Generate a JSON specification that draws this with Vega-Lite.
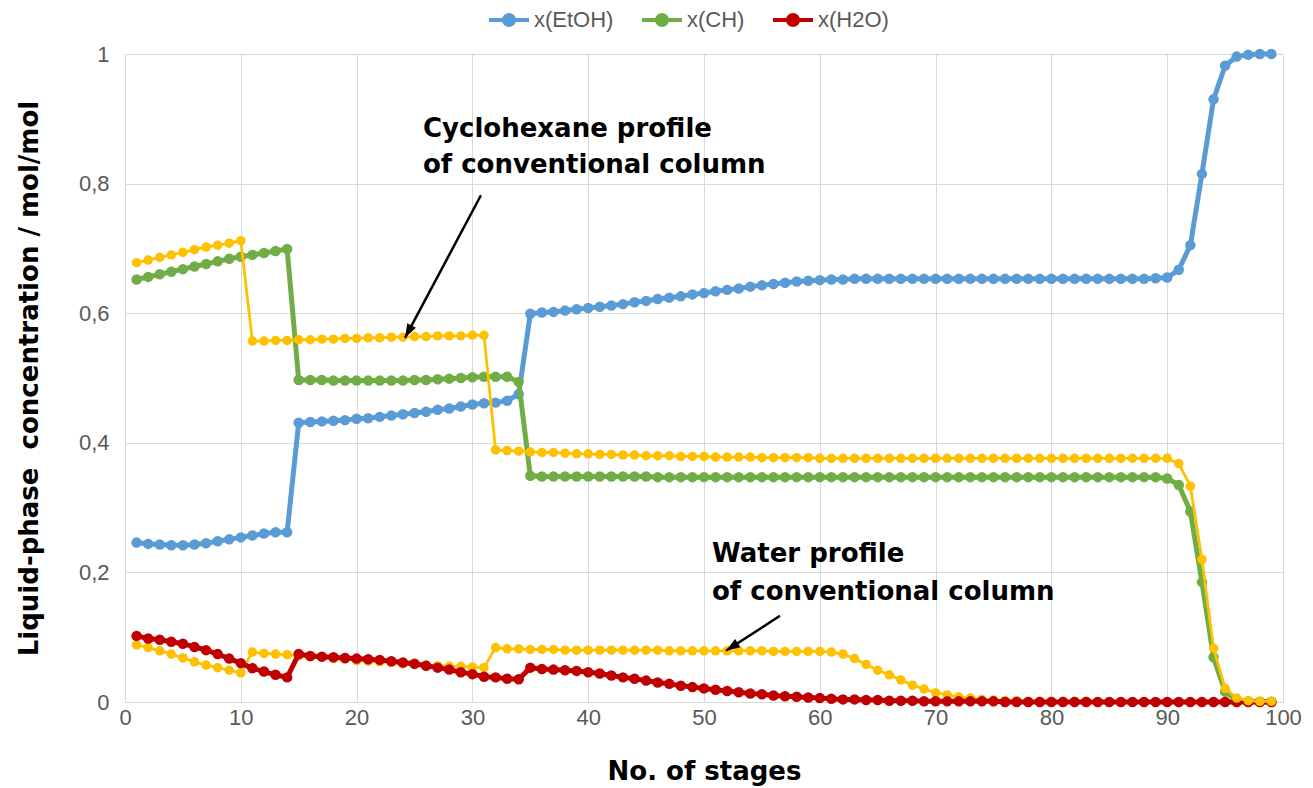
{
  "$schema": "https://vega.github.io/schema/vega-lite/v6.json",
  "width": 1158,
  "height": 648,
  "autosize": {"type": "none"},
  "padding": {"left": 125, "top": 54, "right": 30, "bottom": 86},
  "background": "white",
  "config": {
    "view": {"stroke": null},
    "font": "Liberation Sans",
    "axis": {
      "grid": true,
      "gridColor": "#d9d9d9",
      "gridWidth": 1,
      "domainColor": "#d9d9d9",
      "domainWidth": 1,
      "ticks": false,
      "labelFont": "Liberation Sans",
      "labelFontSize": 22,
      "labelColor": "#595959",
      "labelFlush": false,
      "labelOverlap": false,
      "titleFont": "DejaVu Sans",
      "titleFontWeight": "bold",
      "titleFontSize": 26,
      "titleColor": "#000000"
    }
  },
  "datasets": {
    "profiles": [
      {"n": 1, "E": 0.246, "C": 0.652, "W": 0.102, "Cc": 0.678, "Wc": 0.088},
      {"n": 2, "E": 0.244, "C": 0.656, "W": 0.098, "Cc": 0.682, "Wc": 0.084},
      {"n": 3, "E": 0.243, "C": 0.660, "W": 0.096, "Cc": 0.686, "Wc": 0.079},
      {"n": 4, "E": 0.242, "C": 0.664, "W": 0.093, "Cc": 0.690, "Wc": 0.074},
      {"n": 5, "E": 0.242, "C": 0.668, "W": 0.090, "Cc": 0.694, "Wc": 0.068},
      {"n": 6, "E": 0.243, "C": 0.672, "W": 0.085, "Cc": 0.698, "Wc": 0.062},
      {"n": 7, "E": 0.245, "C": 0.676, "W": 0.080, "Cc": 0.702, "Wc": 0.057},
      {"n": 8, "E": 0.248, "C": 0.680, "W": 0.074, "Cc": 0.705, "Wc": 0.053},
      {"n": 9, "E": 0.251, "C": 0.684, "W": 0.067, "Cc": 0.708, "Wc": 0.049},
      {"n": 10, "E": 0.254, "C": 0.687, "W": 0.060, "Cc": 0.712, "Wc": 0.045},
      {"n": 11, "E": 0.257, "C": 0.690, "W": 0.052, "Cc": 0.557, "Wc": 0.077},
      {"n": 12, "E": 0.260, "C": 0.693, "W": 0.047, "Cc": 0.557, "Wc": 0.075},
      {"n": 13, "E": 0.262, "C": 0.696, "W": 0.042, "Cc": 0.558, "Wc": 0.074},
      {"n": 14, "E": 0.262, "C": 0.699, "W": 0.038, "Cc": 0.558, "Wc": 0.073},
      {"n": 15, "E": 0.431, "C": 0.497, "W": 0.074, "Cc": 0.559, "Wc": 0.071},
      {"n": 16, "E": 0.432, "C": 0.497, "W": 0.071, "Cc": 0.559, "Wc": 0.070},
      {"n": 17, "E": 0.433, "C": 0.497, "W": 0.070, "Cc": 0.560, "Wc": 0.069},
      {"n": 18, "E": 0.434, "C": 0.496, "W": 0.069, "Cc": 0.560, "Wc": 0.067},
      {"n": 19, "E": 0.435, "C": 0.496, "W": 0.068, "Cc": 0.561, "Wc": 0.066},
      {"n": 20, "E": 0.437, "C": 0.496, "W": 0.067, "Cc": 0.561, "Wc": 0.064},
      {"n": 21, "E": 0.438, "C": 0.496, "W": 0.066, "Cc": 0.562, "Wc": 0.063},
      {"n": 22, "E": 0.440, "C": 0.496, "W": 0.065, "Cc": 0.562, "Wc": 0.062},
      {"n": 23, "E": 0.442, "C": 0.496, "W": 0.063, "Cc": 0.563, "Wc": 0.061},
      {"n": 24, "E": 0.444, "C": 0.496, "W": 0.061, "Cc": 0.563, "Wc": 0.059},
      {"n": 25, "E": 0.446, "C": 0.497, "W": 0.059, "Cc": 0.564, "Wc": 0.058},
      {"n": 26, "E": 0.448, "C": 0.497, "W": 0.056, "Cc": 0.564, "Wc": 0.057},
      {"n": 27, "E": 0.451, "C": 0.498, "W": 0.053, "Cc": 0.565, "Wc": 0.056},
      {"n": 28, "E": 0.453, "C": 0.499, "W": 0.050, "Cc": 0.565, "Wc": 0.055},
      {"n": 29, "E": 0.456, "C": 0.500, "W": 0.046, "Cc": 0.565, "Wc": 0.055},
      {"n": 30, "E": 0.459, "C": 0.501, "W": 0.043, "Cc": 0.566, "Wc": 0.054},
      {"n": 31, "E": 0.461, "C": 0.502, "W": 0.039, "Cc": 0.566, "Wc": 0.053},
      {"n": 32, "E": 0.462, "C": 0.502, "W": 0.038, "Cc": 0.389, "Wc": 0.084},
      {"n": 33, "E": 0.465, "C": 0.502, "W": 0.036, "Cc": 0.388, "Wc": 0.082},
      {"n": 34, "E": 0.475, "C": 0.494, "W": 0.035, "Cc": 0.387, "Wc": 0.082},
      {"n": 35, "E": 0.599, "C": 0.349, "W": 0.053, "Cc": 0.386, "Wc": 0.081},
      {"n": 36, "E": 0.601, "C": 0.348, "W": 0.051, "Cc": 0.385, "Wc": 0.081},
      {"n": 37, "E": 0.602, "C": 0.348, "W": 0.050, "Cc": 0.385, "Wc": 0.081},
      {"n": 38, "E": 0.604, "C": 0.348, "W": 0.049, "Cc": 0.384, "Wc": 0.080},
      {"n": 39, "E": 0.606, "C": 0.348, "W": 0.048, "Cc": 0.383, "Wc": 0.080},
      {"n": 40, "E": 0.608, "C": 0.348, "W": 0.046, "Cc": 0.383, "Wc": 0.080},
      {"n": 41, "E": 0.610, "C": 0.348, "W": 0.044, "Cc": 0.382, "Wc": 0.080},
      {"n": 42, "E": 0.612, "C": 0.348, "W": 0.041, "Cc": 0.382, "Wc": 0.080},
      {"n": 43, "E": 0.614, "C": 0.348, "W": 0.038, "Cc": 0.381, "Wc": 0.080},
      {"n": 44, "E": 0.617, "C": 0.348, "W": 0.036, "Cc": 0.381, "Wc": 0.080},
      {"n": 45, "E": 0.619, "C": 0.348, "W": 0.033, "Cc": 0.380, "Wc": 0.080},
      {"n": 46, "E": 0.622, "C": 0.347, "W": 0.030, "Cc": 0.380, "Wc": 0.080},
      {"n": 47, "E": 0.624, "C": 0.347, "W": 0.028, "Cc": 0.380, "Wc": 0.079},
      {"n": 48, "E": 0.626, "C": 0.347, "W": 0.025, "Cc": 0.379, "Wc": 0.079},
      {"n": 49, "E": 0.629, "C": 0.347, "W": 0.023, "Cc": 0.379, "Wc": 0.079},
      {"n": 50, "E": 0.631, "C": 0.347, "W": 0.021, "Cc": 0.379, "Wc": 0.079},
      {"n": 51, "E": 0.634, "C": 0.347, "W": 0.019, "Cc": 0.378, "Wc": 0.079},
      {"n": 52, "E": 0.636, "C": 0.347, "W": 0.017, "Cc": 0.378, "Wc": 0.079},
      {"n": 53, "E": 0.638, "C": 0.347, "W": 0.015, "Cc": 0.378, "Wc": 0.079},
      {"n": 54, "E": 0.641, "C": 0.347, "W": 0.013, "Cc": 0.378, "Wc": 0.079},
      {"n": 55, "E": 0.643, "C": 0.347, "W": 0.012, "Cc": 0.377, "Wc": 0.079},
      {"n": 56, "E": 0.645, "C": 0.347, "W": 0.010, "Cc": 0.377, "Wc": 0.078},
      {"n": 57, "E": 0.647, "C": 0.347, "W": 0.009, "Cc": 0.377, "Wc": 0.078},
      {"n": 58, "E": 0.649, "C": 0.347, "W": 0.008, "Cc": 0.377, "Wc": 0.078},
      {"n": 59, "E": 0.650, "C": 0.347, "W": 0.007, "Cc": 0.377, "Wc": 0.078},
      {"n": 60, "E": 0.651, "C": 0.347, "W": 0.006, "Cc": 0.376, "Wc": 0.078},
      {"n": 61, "E": 0.652, "C": 0.347, "W": 0.005, "Cc": 0.376, "Wc": 0.077},
      {"n": 62, "E": 0.652, "C": 0.347, "W": 0.004, "Cc": 0.376, "Wc": 0.074},
      {"n": 63, "E": 0.653, "C": 0.347, "W": 0.004, "Cc": 0.376, "Wc": 0.067},
      {"n": 64, "E": 0.653, "C": 0.347, "W": 0.003, "Cc": 0.376, "Wc": 0.058},
      {"n": 65, "E": 0.653, "C": 0.347, "W": 0.003, "Cc": 0.376, "Wc": 0.049},
      {"n": 66, "E": 0.653, "C": 0.347, "W": 0.002, "Cc": 0.376, "Wc": 0.042},
      {"n": 67, "E": 0.653, "C": 0.347, "W": 0.002, "Cc": 0.376, "Wc": 0.034},
      {"n": 68, "E": 0.653, "C": 0.347, "W": 0.002, "Cc": 0.376, "Wc": 0.026},
      {"n": 69, "E": 0.653, "C": 0.347, "W": 0.001, "Cc": 0.376, "Wc": 0.020},
      {"n": 70, "E": 0.653, "C": 0.347, "W": 0.001, "Cc": 0.376, "Wc": 0.014},
      {"n": 71, "E": 0.653, "C": 0.347, "W": 0.001, "Cc": 0.376, "Wc": 0.011},
      {"n": 72, "E": 0.653, "C": 0.347, "W": 0.001, "Cc": 0.376, "Wc": 0.008},
      {"n": 73, "E": 0.653, "C": 0.347, "W": 0.001, "Cc": 0.376, "Wc": 0.006},
      {"n": 74, "E": 0.653, "C": 0.347, "W": 0.001, "Cc": 0.376, "Wc": 0.004},
      {"n": 75, "E": 0.653, "C": 0.347, "W": 0.001, "Cc": 0.376, "Wc": 0.003},
      {"n": 76, "E": 0.653, "C": 0.347, "W": 0.000, "Cc": 0.376, "Wc": 0.002},
      {"n": 77, "E": 0.653, "C": 0.347, "W": 0.000, "Cc": 0.376, "Wc": 0.002},
      {"n": 78, "E": 0.653, "C": 0.347, "W": 0.000, "Cc": 0.376, "Wc": 0.001},
      {"n": 79, "E": 0.653, "C": 0.347, "W": 0.000, "Cc": 0.376, "Wc": 0.001},
      {"n": 80, "E": 0.653, "C": 0.347, "W": 0.000, "Cc": 0.376, "Wc": 0.001},
      {"n": 81, "E": 0.653, "C": 0.347, "W": 0.000, "Cc": 0.376, "Wc": 0.001},
      {"n": 82, "E": 0.653, "C": 0.347, "W": 0.000, "Cc": 0.376, "Wc": 0.001},
      {"n": 83, "E": 0.653, "C": 0.347, "W": 0.000, "Cc": 0.376, "Wc": 0.001},
      {"n": 84, "E": 0.653, "C": 0.347, "W": 0.000, "Cc": 0.376, "Wc": 0.000},
      {"n": 85, "E": 0.653, "C": 0.347, "W": 0.000, "Cc": 0.376, "Wc": 0.000},
      {"n": 86, "E": 0.653, "C": 0.347, "W": 0.000, "Cc": 0.376, "Wc": 0.000},
      {"n": 87, "E": 0.653, "C": 0.347, "W": 0.000, "Cc": 0.376, "Wc": 0.000},
      {"n": 88, "E": 0.653, "C": 0.347, "W": 0.000, "Cc": 0.376, "Wc": 0.000},
      {"n": 89, "E": 0.654, "C": 0.347, "W": 0.000, "Cc": 0.376, "Wc": 0.000},
      {"n": 90, "E": 0.655, "C": 0.345, "W": 0.000, "Cc": 0.376, "Wc": 0.000},
      {"n": 91, "E": 0.667, "C": 0.335, "W": 0.000, "Cc": 0.368, "Wc": 0.000},
      {"n": 92, "E": 0.705, "C": 0.294, "W": 0.000, "Cc": 0.333, "Wc": 0.000},
      {"n": 93, "E": 0.815, "C": 0.185, "W": 0.000, "Cc": 0.220, "Wc": 0.000},
      {"n": 94, "E": 0.930, "C": 0.069, "W": 0.000, "Cc": 0.083, "Wc": 0.000},
      {"n": 95, "E": 0.982, "C": 0.016, "W": 0.000, "Cc": 0.021, "Wc": 0.000},
      {"n": 96, "E": 0.996, "C": 0.003, "W": 0.000, "Cc": 0.006, "Wc": 0.000},
      {"n": 97, "E": 0.999, "C": 0.001, "W": 0.000, "Cc": 0.002, "Wc": 0.000},
      {"n": 98, "E": 1.000, "C": 0.000, "W": 0.000, "Cc": 0.001, "Wc": 0.000},
      {"n": 99, "E": 1.000, "C": 0.000, "W": 0.000, "Cc": 0.001, "Wc": 0.000}
    ],
    "notes": [
      {"x": 25.73, "y": 0.872, "label": "Cyclohexane profile"},
      {"x": 25.73, "y": 0.816, "label": "of conventional column"},
      {"x": 50.69, "y": 0.216, "label": "Water profile"},
      {"x": 50.69, "y": 0.157, "label": "of conventional column"}
    ],
    "arrows": [
      {"id": "ch", "x": 30.74, "y": 0.782, "x2": 24.18, "y2": 0.562},
      {"id": "water", "x": 56.56, "y": 0.133, "x2": 51.9, "y2": 0.079}
    ]
  },
  "data": {"name": "profiles"},
  "layer": [
    {
      "mark": {"type": "line", "color": "#ffc000", "strokeWidth": 2.8},
      "encoding": {
        "x": {"field": "n", "type": "quantitative", "scale": {"domain": [0, 100], "nice": false},
              "axis": {"values": [0, 10, 20, 30, 40, 50, 60, 70, 80, 90, 100], "title": "No. of stages", "labelPadding": 5, "titlePadding": 30}},
        "y": {"field": "Wc", "type": "quantitative", "scale": {"domain": [0, 1], "nice": false},
              "axis": {"values": [0, 0.2, 0.4, 0.6, 0.8, 1], "labelExpr": "replace(format(datum.value, '~g'), '.', ',')", "title": "Liquid-phase \u00a0concentration / mol/mol", "labelPadding": 16, "titlePadding": 36}}
      }
    },
    {
      "mark": {"type": "point", "filled": true, "color": "#ffc000", "opacity": 1, "size": 90},
      "encoding": {"x": {"field": "n", "type": "quantitative"}, "y": {"field": "Wc", "type": "quantitative"}}
    },
    {
      "mark": {"type": "line", "strokeWidth": 5},
      "encoding": {
        "x": {"field": "n", "type": "quantitative"},
        "y": {"field": "E", "type": "quantitative"},
        "color": {
          "datum": "x(EtOH)", "type": "nominal",
          "scale": {"domain": ["x(EtOH)", "x(CH)", "x(H2O)"], "range": ["#5b9bd5", "#70ad47", "#c00000"]},
          "legend": {
            "title": null, "orient": "none", "direction": "horizontal", "legendX": 362, "legendY": -56,
            "padding": 0, "symbolType": "M-1,0L1,0M-0.25,0A0.25,0.25,0,1,1,0.25,0A0.25,0.25,0,1,1,-0.25,0Z",
            "symbolSize": 1600, "symbolStrokeWidth": 4, "symbolOpacity": 1,
            "labelFont": "Liberation Sans", "labelFontSize": 22, "labelColor": "#595959", "labelOffset": 3,
            "columnPadding": 20,
            "encode": {"symbols": {"update": {"fill": {"scale": "color", "field": "value"}, "stroke": {"scale": "color", "field": "value"}}}}
          }
        }
      }
    },
    {
      "mark": {"type": "point", "filled": true, "opacity": 1, "size": 110},
      "encoding": {"x": {"field": "n", "type": "quantitative"}, "y": {"field": "E", "type": "quantitative"}, "color": {"datum": "x(EtOH)", "type": "nominal"}}
    },
    {
      "mark": {"type": "line", "strokeWidth": 5},
      "encoding": {"x": {"field": "n", "type": "quantitative"}, "y": {"field": "C", "type": "quantitative"}, "color": {"datum": "x(CH)", "type": "nominal"}}
    },
    {
      "mark": {"type": "point", "filled": true, "opacity": 1, "size": 110},
      "encoding": {"x": {"field": "n", "type": "quantitative"}, "y": {"field": "C", "type": "quantitative"}, "color": {"datum": "x(CH)", "type": "nominal"}}
    },
    {
      "mark": {"type": "line", "strokeWidth": 5},
      "encoding": {"x": {"field": "n", "type": "quantitative"}, "y": {"field": "W", "type": "quantitative"}, "color": {"datum": "x(H2O)", "type": "nominal"}}
    },
    {
      "mark": {"type": "point", "filled": true, "opacity": 1, "size": 110},
      "encoding": {"x": {"field": "n", "type": "quantitative"}, "y": {"field": "W", "type": "quantitative"}, "color": {"datum": "x(H2O)", "type": "nominal"}}
    },
    {
      "mark": {"type": "line", "color": "#ffc000", "strokeWidth": 2.8},
      "encoding": {"x": {"field": "n", "type": "quantitative"}, "y": {"field": "Cc", "type": "quantitative"}}
    },
    {
      "mark": {"type": "point", "filled": true, "color": "#ffc000", "opacity": 1, "size": 90},
      "encoding": {"x": {"field": "n", "type": "quantitative"}, "y": {"field": "Cc", "type": "quantitative"}}
    },
    {
      "data": {"name": "arrows"},
      "mark": {"type": "rule", "color": "#000000", "strokeWidth": 2.5},
      "encoding": {
        "x": {"field": "x", "type": "quantitative"}, "y": {"field": "y", "type": "quantitative"},
        "x2": {"field": "x2"}, "y2": {"field": "y2"}
      }
    },
    {
      "data": {"name": "arrows"},
      "transform": [{"filter": "datum.id === 'ch'"}],
      "mark": {"type": "point", "shape": "M0,0L0.7,2L-0.7,2Z", "filled": true, "color": "#000000", "opacity": 1, "size": 196, "angle": 208},
      "encoding": {"x": {"field": "x2", "type": "quantitative"}, "y": {"field": "y2", "type": "quantitative"}}
    },
    {
      "data": {"name": "arrows"},
      "transform": [{"filter": "datum.id === 'water'"}],
      "mark": {"type": "point", "shape": "M0,0L0.7,2L-0.7,2Z", "filled": true, "color": "#000000", "opacity": 1, "size": 196, "angle": 237},
      "encoding": {"x": {"field": "x2", "type": "quantitative"}, "y": {"field": "y2", "type": "quantitative"}}
    },
    {
      "data": {"name": "notes"},
      "mark": {"type": "text", "align": "left", "baseline": "alphabetic", "font": "DejaVu Sans", "fontWeight": "bold", "fontSize": 26, "color": "#000000"},
      "encoding": {
        "x": {"field": "x", "type": "quantitative"},
        "y": {"field": "y", "type": "quantitative"},
        "text": {"field": "label", "type": "nominal"}
      }
    }
  ]
}
